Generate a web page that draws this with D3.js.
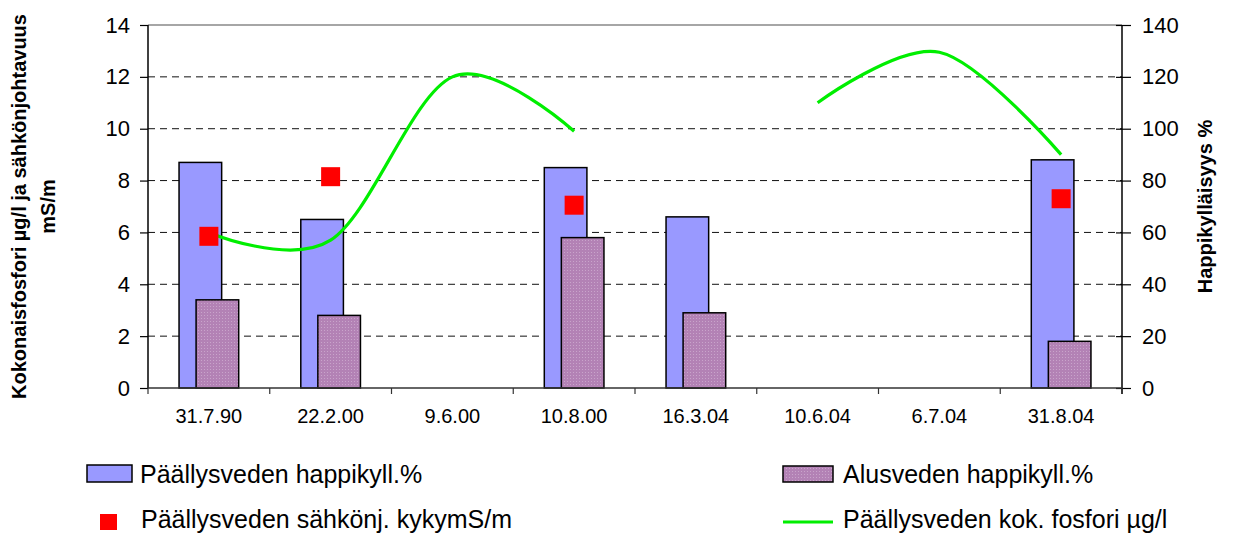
<!DOCTYPE html>
<html>
<head>
<meta charset="utf-8">
<script src="https://cdn.jsdelivr.net/npm/d3@7"></script>
<style>
  html, body { margin: 0; padding: 0; background: #fff; }
  svg { display: block; font-family: "Liberation Sans", Arial, sans-serif; }
</style>
</head>
<body>
<svg id="chart" width="1238" height="533"></svg>
<script>
// ---- data ----
const categories = ["31.7.90", "22.2.00", "9.6.00", "10.8.00", "16.3.04", "10.6.04", "6.7.04", "31.8.04"];
const surfaceOxygen = [87, 65, null, 85, 66, null, null, 88];       // Päällysveden happikyll.% (right axis)
const bottomOxygen = [34, 28, null, 58, 29, null, null, 18];        // Alusveden happikyll.% (right axis)
const conductivity = [5.85, 8.15, null, 7.05, null, null, null, 7.3]; // Päällysveden sähkönj. kyky mS/m (left axis)
const phosphorus = [6.0, 5.7, 12.0, 9.9, null, 11.0, 12.95, 9.0];   // Päällysveden kok. fosfori µg/l (left axis)
const leftTicks = [0, 2, 4, 6, 8, 10, 12, 14];
const rightTicks = [0, 20, 40, 60, 80, 100, 120, 140];
const legendLabels = ["Päällysveden happikyll.%", "Alusveden happikyll.%", "Päällysveden sähkönj. kykymS/m", "Päällysveden kok. fosfori µg/l"];

// ---- layout ----
const svg = d3.select("#chart");
const L = 148, R = 1122, T = 25, B = 388;

const x = d3.scaleBand().domain(categories).range([L, R]).padding(0);
const yL = d3.scaleLinear().domain([0, 14]).range([B, T]);
const yR = d3.scaleLinear().domain([0, 140]).range([B, T]);
const bw = x.bandwidth();
const cx = c => x(c) + bw / 2;

const COLORS = { blue: "#9999ff", purple: "#b382b5", red: "#ff0000", green: "#00ee00" };

// pattern for purple bars
const defs = svg.append("defs");
const pat = defs.append("pattern").attr("id", "dots").attr("patternUnits", "userSpaceOnUse")
  .attr("width", 3).attr("height", 3);
pat.append("rect").attr("width", 3).attr("height", 3).attr("fill", COLORS.purple);
pat.append("rect").attr("x", 0).attr("y", 0).attr("width", 1).attr("height", 1).attr("fill", "#c9a4cb");

// gridlines
svg.append("g").selectAll("line").data(leftTicks.filter(t => t > 0 && t < 14)).join("line")
  .attr("x1", L).attr("x2", R).attr("y1", d => yL(d)).attr("y2", d => yL(d))
  .attr("stroke", "#111").attr("stroke-width", 1).attr("stroke-dasharray", "7,5");

// top border
svg.append("line").attr("x1", L).attr("x2", R).attr("y1", T).attr("y2", T)
  .attr("stroke", "#888").attr("stroke-width", 1.5);

// bars
const barW = bw * 0.35, off = bw * 0.14;
const data = categories.map((c, i) => ({ c, s: surfaceOxygen[i], b: bottomOxygen[i], k: conductivity[i], p: phosphorus[i] }));

svg.append("g").selectAll("rect").data(data.filter(d => d.s != null)).join("rect")
  .attr("x", d => cx(d.c) - off / 2 - barW / 2).attr("width", barW)
  .attr("y", d => yR(d.s)).attr("height", d => B - yR(d.s))
  .attr("fill", COLORS.blue).attr("stroke", "#000").attr("stroke-width", 1.5);

svg.append("g").selectAll("rect").data(data.filter(d => d.b != null)).join("rect")
  .attr("x", d => cx(d.c) + off / 2 - barW / 2).attr("width", barW)
  .attr("y", d => yR(d.b)).attr("height", d => B - yR(d.b))
  .attr("fill", "url(#dots)").attr("stroke", "#000").attr("stroke-width", 1.5);

// phosphorus line
const line = d3.line().defined(d => d.p != null)
  .x(d => cx(d.c)).y(d => yL(d.p)).curve(d3.curveCardinal.tension(0));
svg.append("path").datum(data).attr("d", line)
  .attr("fill", "none").attr("stroke", COLORS.green).attr("stroke-width", 3.2);

// conductivity markers
const ms = 19;
svg.append("g").selectAll("rect").data(data.filter(d => d.k != null)).join("rect")
  .attr("x", d => cx(d.c) - ms / 2).attr("y", d => yL(d.k) - ms / 2)
  .attr("width", ms).attr("height", ms).attr("fill", COLORS.red);

// left axis
const gL = svg.append("g").attr("transform", `translate(${L},0)`)
  .call(d3.axisLeft(yL).tickValues(leftTicks).tickSize(8).tickPadding(10).tickFormat(d3.format("d")));
gL.select(".domain").attr("stroke", "#000").attr("stroke-width", 1.5).attr("d", `M0,${T}V${B}`);
gL.selectAll(".tick line").attr("stroke", "#000").attr("stroke-width", 1.2);
gL.selectAll("text").attr("font-size", 22).attr("fill", "#000").attr("font-family", "Liberation Sans, Arial");

// right axis
const gR = svg.append("g").attr("transform", `translate(${R},0)`)
  .call(d3.axisRight(yR).tickValues(rightTicks).tickSize(9).tickPadding(11).tickFormat(d3.format("d")));
gR.select(".domain").attr("stroke", "#000").attr("stroke-width", 1.5).attr("d", `M0,${T}V${B + 6}`);
gR.selectAll(".tick line").attr("stroke", "#000").attr("stroke-width", 1.2).attr("x1", -6);
gR.selectAll("text").attr("font-size", 22).attr("fill", "#000").attr("font-family", "Liberation Sans, Arial");

// bottom axis
const gB = svg.append("g").attr("transform", `translate(0,${B})`);
gB.append("line").attr("x1", L).attr("x2", R).attr("y1", 0).attr("y2", 0)
  .attr("stroke", "#333").attr("stroke-width", 1.5);
const bounds = categories.map(c => x(c)).concat([R]);
gB.selectAll("line.tk").data(bounds).join("line").attr("class", "tk")
  .attr("x1", d => d).attr("x2", d => d).attr("y1", 0).attr("y2", 6)
  .attr("stroke", "#333").attr("stroke-width", 1.2);
gB.selectAll("text").data(categories).join("text")
  .attr("x", d => cx(d)).attr("y", 35).attr("text-anchor", "middle")
  .attr("font-size", 20).attr("fill", "#000").text(d => d);

// axis titles
const midY = (T + B) / 2;
const lt = svg.append("text").attr("transform", `translate(26,${midY}) rotate(-90)`)
  .attr("text-anchor", "middle").attr("font-size", 20).attr("font-weight", "bold");
lt.append("tspan").attr("x", 0).attr("y", 0).text("Kokonaisfosfori µg/l ja sähkönjohtavuus");
lt.append("tspan").attr("x", 0).attr("y", 29).text("mS/m");
svg.append("text").attr("transform", `translate(1212,${midY}) rotate(-90)`)
  .attr("text-anchor", "middle").attr("font-size", 20).attr("font-weight", "bold")
  .text("Happikylläisyys %");

// legend
const lg = svg.append("g");
lg.append("rect").attr("x", 87).attr("y", 465).attr("width", 45).attr("height", 17)
  .attr("fill", COLORS.blue).attr("stroke", "#000").attr("stroke-width", 1.5);
lg.append("text").attr("x", 140).attr("y", 483).attr("font-size", 25).text(legendLabels[0]);
lg.append("rect").attr("x", 783).attr("y", 466).attr("width", 50).attr("height", 16)
  .attr("fill", "url(#dots)").attr("stroke", "#000").attr("stroke-width", 1.5);
lg.append("text").attr("x", 843).attr("y", 483).attr("font-size", 25).text(legendLabels[1]);
lg.append("rect").attr("x", 100).attr("y", 514).attr("width", 17).attr("height", 16)
  .attr("fill", COLORS.red);
lg.append("text").attr("x", 141).attr("y", 528).attr("font-size", 25).text(legendLabels[2]);
lg.append("line").attr("x1", 783).attr("x2", 833).attr("y1", 522).attr("y2", 522)
  .attr("stroke", COLORS.green).attr("stroke-width", 3.2);
lg.append("text").attr("x", 843).attr("y", 528).attr("font-size", 25).text(legendLabels[3]);
</script>
</body>
</html>
